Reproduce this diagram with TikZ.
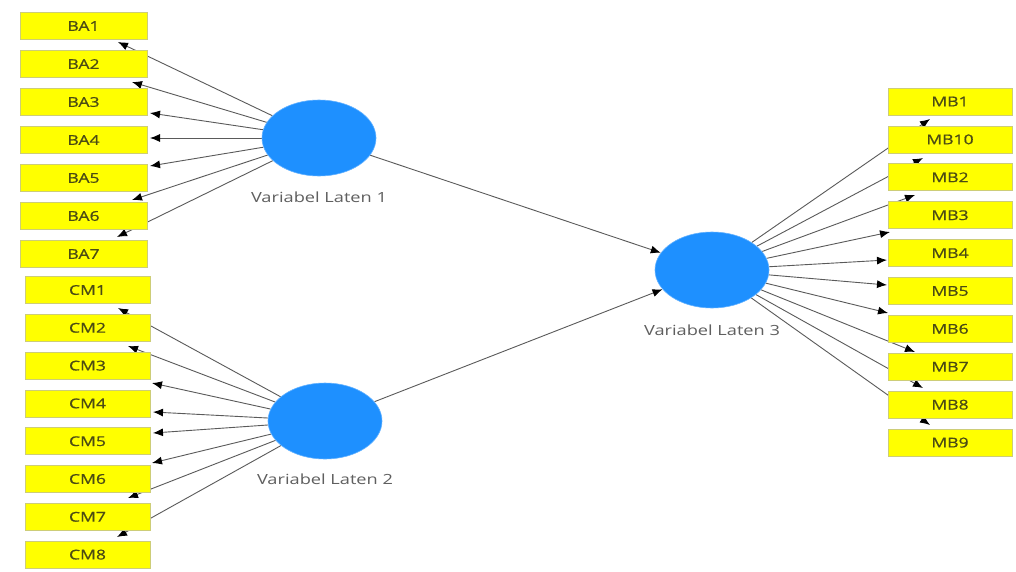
\documentclass[tikz,border=0pt]{standalone}
\usepackage{fontspec}
\setmainfont[FakeStretch=1.3]{Open Sans}
\newfontfamily\indfont[FakeStretch=1.3,FakeBold=0.8]{Open Sans}
\usetikzlibrary{arrows.meta,shapes.geometric}
\pgfdeclarelayer{bg}
\pgfsetlayers{bg,main}
\definecolor{latblue}{RGB}{30,144,255}
\definecolor{indfill}{RGB}{255,255,0}
\definecolor{indedge}{RGB}{205,205,120}
\definecolor{indtext}{RGB}{75,75,20}
\definecolor{labtext}{RGB}{95,95,95}
\definecolor{linkcol}{RGB}{90,90,90}
\tikzset{
  ind/.style={rectangle, fill=indfill, draw=indedge, line width=0.8pt,
    minimum height=27pt, inner sep=0pt, text=indtext,
    font=\indfont\fontsize{13.5}{14}\selectfont},
  lat/.style={ellipse, fill=latblue, draw=latblue!70!white, line width=0.6pt,
    minimum width=114pt, minimum height=76pt, inner sep=0pt},
  latlabel/.style={text=labtext, font=\fontsize{14}{15}\selectfont, inner sep=0pt},
  link/.style={draw=linkcol, line width=0.9pt,
    -{Latex[length=10pt,width=8pt,color=black]}}
}
\begin{document}
\begin{tikzpicture}[x=1pt,y=-1pt]
  \useasboundingbox (0,0) rectangle (1016,571);

  % latent variables
  \node[lat] (L1) at (319,138) {};
  \node[lat] (L2) at (325,421) {};
  \node[lat] (L3) at (712,270) {};
  \node[latlabel] (L1t) at (319,197) {Variabel Laten 1};
  \node[latlabel] (L2t) at (325,479) {Variabel Laten 2};
  \node[latlabel] (L3t) at (712,330) {Variabel Laten 3};

  % indicators of Laten 1
  \foreach \i [count=\k from 0] in {1,...,7}
    \node[ind, minimum width=127pt] (BA\i) at (83.5,26+38*\k) {BA\i};
  % indicators of Laten 2
  \foreach \i [count=\k from 0] in {1,...,8}
    \node[ind, minimum width=125pt] (CM\i) at (87.5,290+37.8*\k) {CM\i};
  % indicators of Laten 3
  \foreach \n [count=\k from 0] in {MB1,MB10,MB2,MB3,MB4,MB5,MB6,MB7,MB8,MB9}
    \node[ind, minimum width=124pt] (\n) at (950,101.5+37.9*\k) {\n};

  % arrow end points of the outer loadings
  \coordinate (aBA1) at (118,42);
  \coordinate (aBA2) at (132,82);
  \coordinate (aBA3) at (150,113);
  \coordinate (aBA4) at (150,138);
  \coordinate (aBA5) at (150,166);
  \coordinate (aBA6) at (132,200);
  \coordinate (aBA7) at (117,237);

  \coordinate (aCM1) at (118,308);
  \coordinate (aCM2) at (128,346);
  \coordinate (aCM3) at (152,383);
  \coordinate (aCM4) at (153,412);
  \coordinate (aCM5) at (153,433);
  \coordinate (aCM6) at (152,463);
  \coordinate (aCM7) at (128,498);
  \coordinate (aCM8) at (117,537);

  \coordinate (aMB1) at (930,119);
  \coordinate (aMB10) at (923,158);
  \coordinate (aMB2) at (915,195);
  \coordinate (aMB3) at (890,232);
  \coordinate (aMB4) at (887,260);
  \coordinate (aMB5) at (887,285);
  \coordinate (aMB6) at (888,313);
  \coordinate (aMB7) at (915,352);
  \coordinate (aMB8) at (923,388);
  \coordinate (aMB9) at (930,425);

  \begin{pgfonlayer}{bg}
    \fill[white] (0,0) rectangle (1016,571);
    \foreach \i in {1,...,7} \draw[link] (L1) -- (aBA\i);
    \foreach \i in {1,...,8} \draw[link] (L2) -- (aCM\i);
    \foreach \n in {MB1,MB10,MB2,MB3,MB4,MB5,MB6,MB7,MB8,MB9} \draw[link] (L3) -- (a\n);
    % structural paths
    \draw[link] (L1) -- (L3);
    \draw[link] (L2) -- (L3);
  \end{pgfonlayer}
\end{tikzpicture}
\end{document}
